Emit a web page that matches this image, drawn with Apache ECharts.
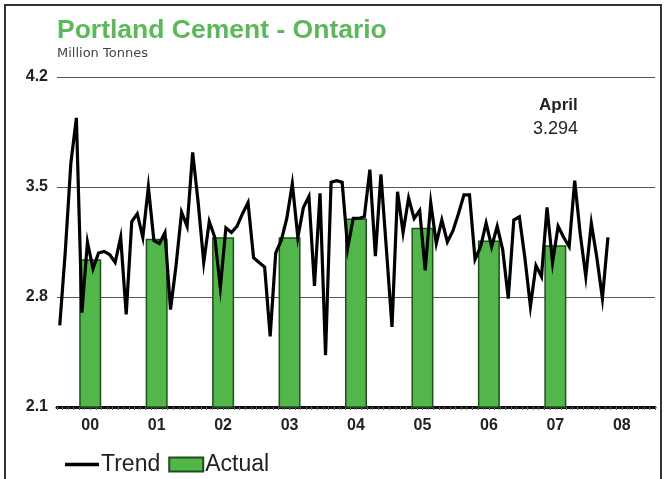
<!DOCTYPE html>
<html>
<head>
<meta charset="utf-8">
<script src="https://cdn.jsdelivr.net/npm/echarts@6/dist/echarts.min.js"></script>
<style>
html,body{margin:0;padding:0;background:#fff;}
#chart{width:664px;height:479px;}
</style>
</head>
<body>
<div id="chart"></div>
<script>
// Year categories (axis labels)
var years = ['00','01','02','03','04','05','06','07','08'];
// Annual "Actual" bars (million tonnes)
var actual = [3.04, 3.17, 3.18, 3.18, 3.30, 3.24, 3.16, 3.13, null];
// Monthly "Trend" values Jan 2000 .. Apr 2008
var trend = [
  2.62, 3.09, 3.65, 3.94, 2.70, 3.15, 2.98, 3.08, 3.09, 3.07, 3.02, 3.18,
  2.69, 3.28, 3.33, 3.18, 3.50, 3.16, 3.14, 3.21, 2.72, 3.00, 3.34, 3.25,
  3.72, 3.40, 3.02, 3.28, 3.18, 2.86, 3.24, 3.21, 3.25, 3.33, 3.40, 3.05,
  3.02, 2.99, 2.55, 3.08, 3.16, 3.30, 3.52, 3.18, 3.37, 3.44, 2.87, 3.46,
  2.43, 3.53, 3.54, 3.53, 3.11, 3.30, 3.30, 3.31, 3.61, 3.06, 3.58, 3.10,
  2.61, 3.47, 3.21, 3.43, 3.30, 3.35, 2.97, 3.40, 3.14, 3.29, 3.15, 3.22,
  3.33, 3.45, 3.45, 3.04, 3.12, 3.27, 3.12, 3.25, 3.10, 2.79, 3.29, 3.31,
  3.05, 2.74, 3.00, 2.93, 3.37, 3.02, 3.25, 3.18, 3.12, 3.54, 3.20, 2.93,
  3.27, 3.05, 2.79, 3.18
];
// Month categories for the trend axis (Jan 2000 .. Dec 2008)
var months = [];
for (var y = 0; y < years.length; y++) {
  for (var m = 1; m <= 12; m++) { months.push(years[y] + '-' + m); }
}
var yMin = 2.1, yMax = 4.2, yStep = 0.7;

var chart = echarts.init(document.getElementById('chart'), null, {renderer: 'canvas'});
var axisFont = {fontFamily: 'Liberation Sans', fontWeight: 'bold', fontSize: 16, color: '#222'};
chart.setOption({
  animation: false,
  backgroundColor: '#fff',
  title: {
    text: 'Portland Cement - Ontario',
    subtext: 'Million Tonnes',
    left: 52, top: 12,
    itemGap: 3,
    textStyle: {fontFamily: 'Liberation Sans', fontWeight: 'bold', fontSize: 26.5, color: '#5cb85a'},
    subtextStyle: {fontFamily: 'DejaVu Sans', fontSize: 13, color: '#444'}
  },
  legend: {
    left: 60, top: 448,
    itemWidth: 34, itemHeight: 14, itemGap: 8,
    textStyle: {fontFamily: 'Liberation Sans', fontSize: 23, color: '#222', padding: [0,0,0,-3]},
    data: [
      {name: 'Trend', icon: 'path://M0,0L34,0L34,3.5L0,3.5Z', itemStyle: {color: '#000', borderWidth: 0}},
      {name: 'Actual', icon: 'rect'}
    ]
  },
  grid: {left: 57, right: 9, top: 77, bottom: 72, containLabel: false},
  xAxis: [
    {
      type: 'category', data: years, position: 'bottom', boundaryGap: true,
      axisLine: {show: false}, axisTick: {show: false},
      axisLabel: Object.assign({margin: 11}, axisFont)
    },
    {
      type: 'category', data: months, position: 'bottom', boundaryGap: true,
      axisLine: {show: true, lineStyle: {color: '#111', width: 3}},
      axisTick: {show: true, interval: 0, length: 3, lineStyle: {color: '#666', width: 1}},
      axisLabel: {show: false}
    }
  ],
  yAxis: {
    type: 'value', min: yMin, max: yMax, interval: yStep,
    axisLine: {show: false}, axisTick: {show: false},
    axisLabel: Object.assign({margin: 9, formatter: function (v) { return v.toFixed(1); }}, axisFont),
    splitLine: {show: true, lineStyle: {color: '#555', width: 1}}
  },
  series: [
    {
      name: 'Actual', type: 'bar', xAxisIndex: 0, data: actual,
      barWidth: 22, z: 2,
      itemStyle: {color: '#52b64a', borderColor: '#1f4f1f', borderWidth: 1.5}
    },
    {
      name: 'Trend', type: 'line', xAxisIndex: 1, data: trend,
      symbol: 'none', z: 3,
      lineStyle: {color: '#000', width: 3.2, join: 'miter'},
      itemStyle: {color: '#000'}
    }
  ],
  graphic: [
    {type: 'rect', shape: {x: 5, y: 5, width: 656, height: 500}, style: {fill: 'none', stroke: '#333', lineWidth: 2}, silent: true},
    {type: 'text', left: 539, top: 97, style: {text: 'April', fontFamily: 'Liberation Sans', fontWeight: 'bold', fontSize: 17, fill: '#222'}},
    {type: 'text', left: 533, top: 120, style: {text: '3.294', fontFamily: 'Liberation Sans', fontSize: 18, fill: '#222'}}
  ]
});
</script>
</body>
</html>
